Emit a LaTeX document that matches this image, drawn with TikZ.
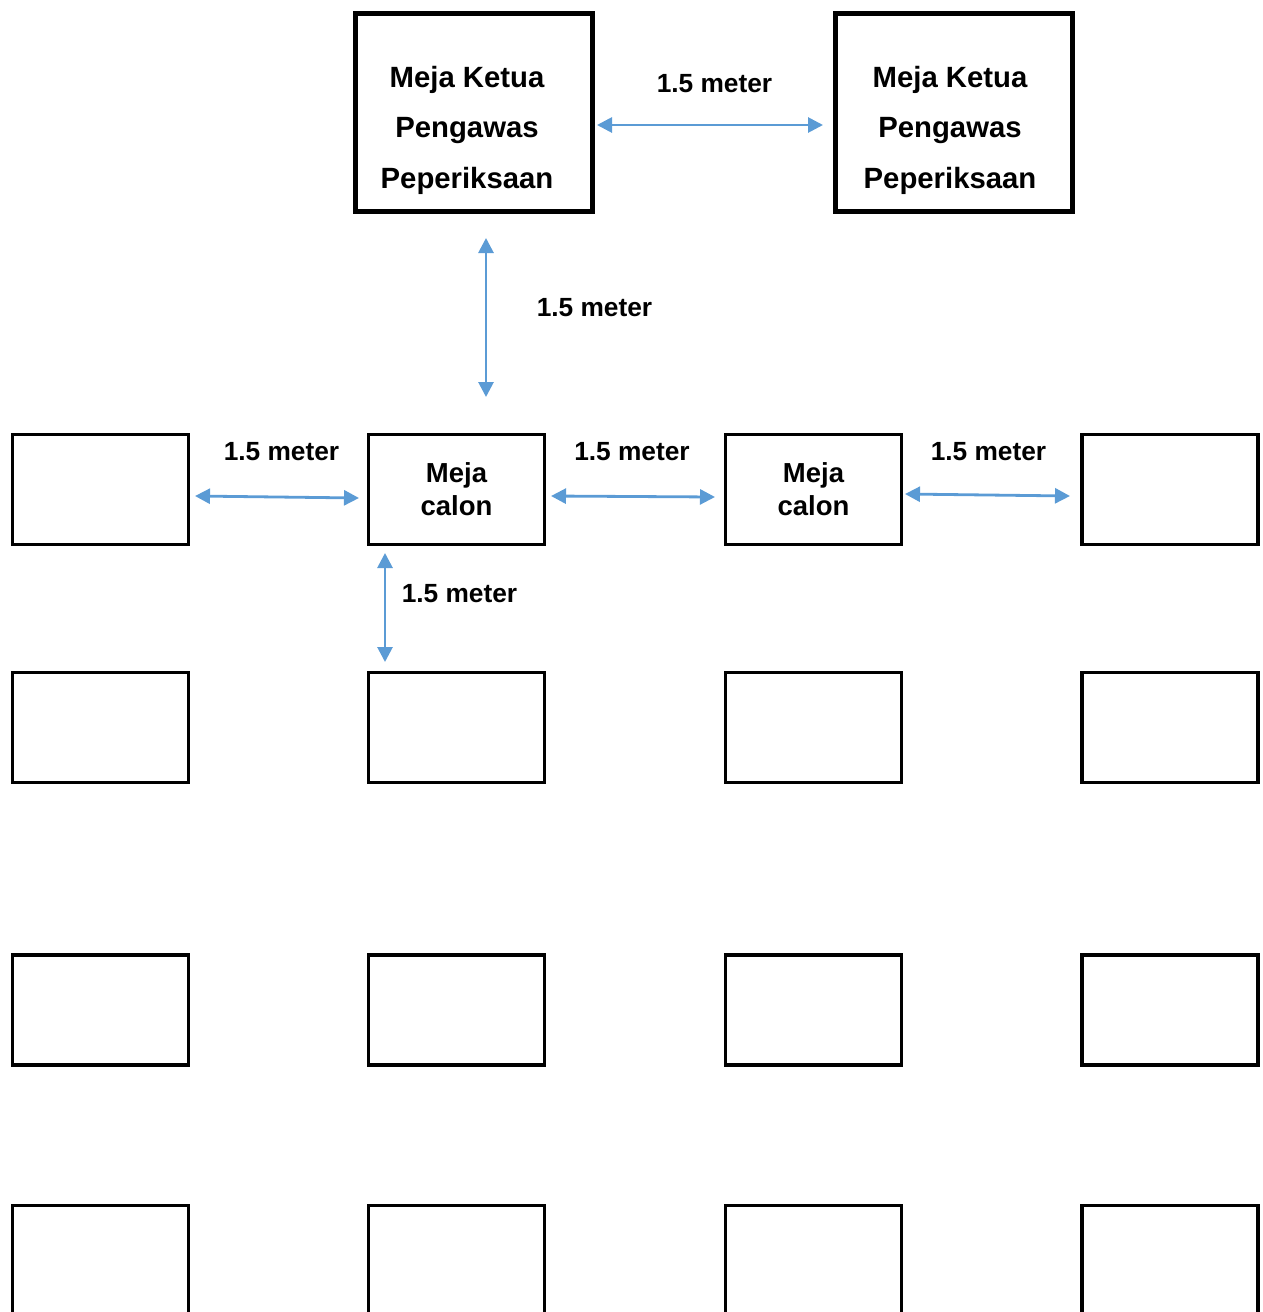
\documentclass[tikz,border=0pt]{standalone}
\usepackage{fontspec}
\setmainfont{Liberation Sans}
\usetikzlibrary{arrows.meta,positioning}
\definecolor{jarakblue}{HTML}{5B9BD5}

\begin{document}
\begin{tikzpicture}[x=1pt, y=-1pt,
    ketuabox/.style={rectangle, draw, line width=5pt, minimum width=237pt, minimum height=198pt, inner sep=0pt},
    ketuatext/.style={font=\fontsize{29.3}{50.5}\selectfont\bfseries, align=center, inner sep=0pt},
    mejabox/.style={rectangle, draw, line width=3.3pt, minimum width=176pt, minimum height=110pt, inner sep=0pt,
        font=\fontsize{27.5}{33}\selectfont\bfseries, align=center},
    jarak/.style={jarakblue, line width=2.8pt, {Triangle[length=15pt,width=15pt]}-{Triangle[length=15pt,width=15pt]}},
    jaraklabel/.style={font=\fontsize{26.3}{30}\selectfont\bfseries, inner sep=0pt}]
    \useasboundingbox (0,0) rectangle (1263,1312);

    % Meja ketua pengawas
    \node[ketuabox] (ketua1) at (474,112.5) {};
    \node[ketuabox] (ketua2) at (954,112.5) {};
    \node[ketuatext] (ketua1text) at (467,130) {Meja Ketua\\Pengawas\\Peperiksaan};
    \node[ketuatext] (ketua2text) at (950,130) {Meja Ketua\\Pengawas\\Peperiksaan};

    % Meja calon, baris pertama
    \node[mejabox] (r1c1) at (100.5,489.5) {};
    \node[mejabox] (r1c2) at (456.5,489.5) {Meja\\calon};
    \node[mejabox] (r1c3) at (813.5,489.5) {Meja\\calon};
    \node[mejabox] (r1c4) at (1170,489.5) {};

    % Baris selebihnya
    \foreach \row/\y in {2/727.5, 3/1010, 4/1260.5} {
        \foreach \col/\x in {1/100.5, 2/456.5, 3/813.5, 4/1170} {
            \node[mejabox] (r\row c\col) at (\x,\y) {};
        }
    }

    % Jarak
    \coordinate (k1e) at (597,125);
    \coordinate (k2w) at (823,125);
    \coordinate (k1s) at (486,238);
    \coordinate (c2n) at (486,397);
    \coordinate (c1e) at (195,496);
    \coordinate (c2w) at (359,498);
    \coordinate (c2e) at (551,496);
    \coordinate (c3w) at (715,497);
    \coordinate (c3e) at (905,494);
    \coordinate (c4w) at (1070,496);
    \coordinate (c2s) at (385,553);
    \coordinate (d2n) at (385,662);

    \draw[jarak] (k1e) -- (k2w);
    \draw[jarak] (k1s) -- (c2n);
    \draw[jarak] (c1e) -- (c2w);
    \draw[jarak] (c2e) -- (c3w);
    \draw[jarak] (c3e) -- (c4w);
    \draw[jarak] (c2s) -- (d2n);

    \node[jaraklabel] (lbl1) at (714.5,84) {1.5 meter};
    \node[jaraklabel] (lbl2) at (594.5,308) {1.5 meter};
    \node[jaraklabel] (lbl3) at (281.5,452) {1.5 meter};
    \node[jaraklabel] (lbl4) at (632,452) {1.5 meter};
    \node[jaraklabel] (lbl5) at (988.5,452) {1.5 meter};
    \node[jaraklabel] (lbl6) at (459.5,594) {1.5 meter};
\end{tikzpicture}
\end{document}
